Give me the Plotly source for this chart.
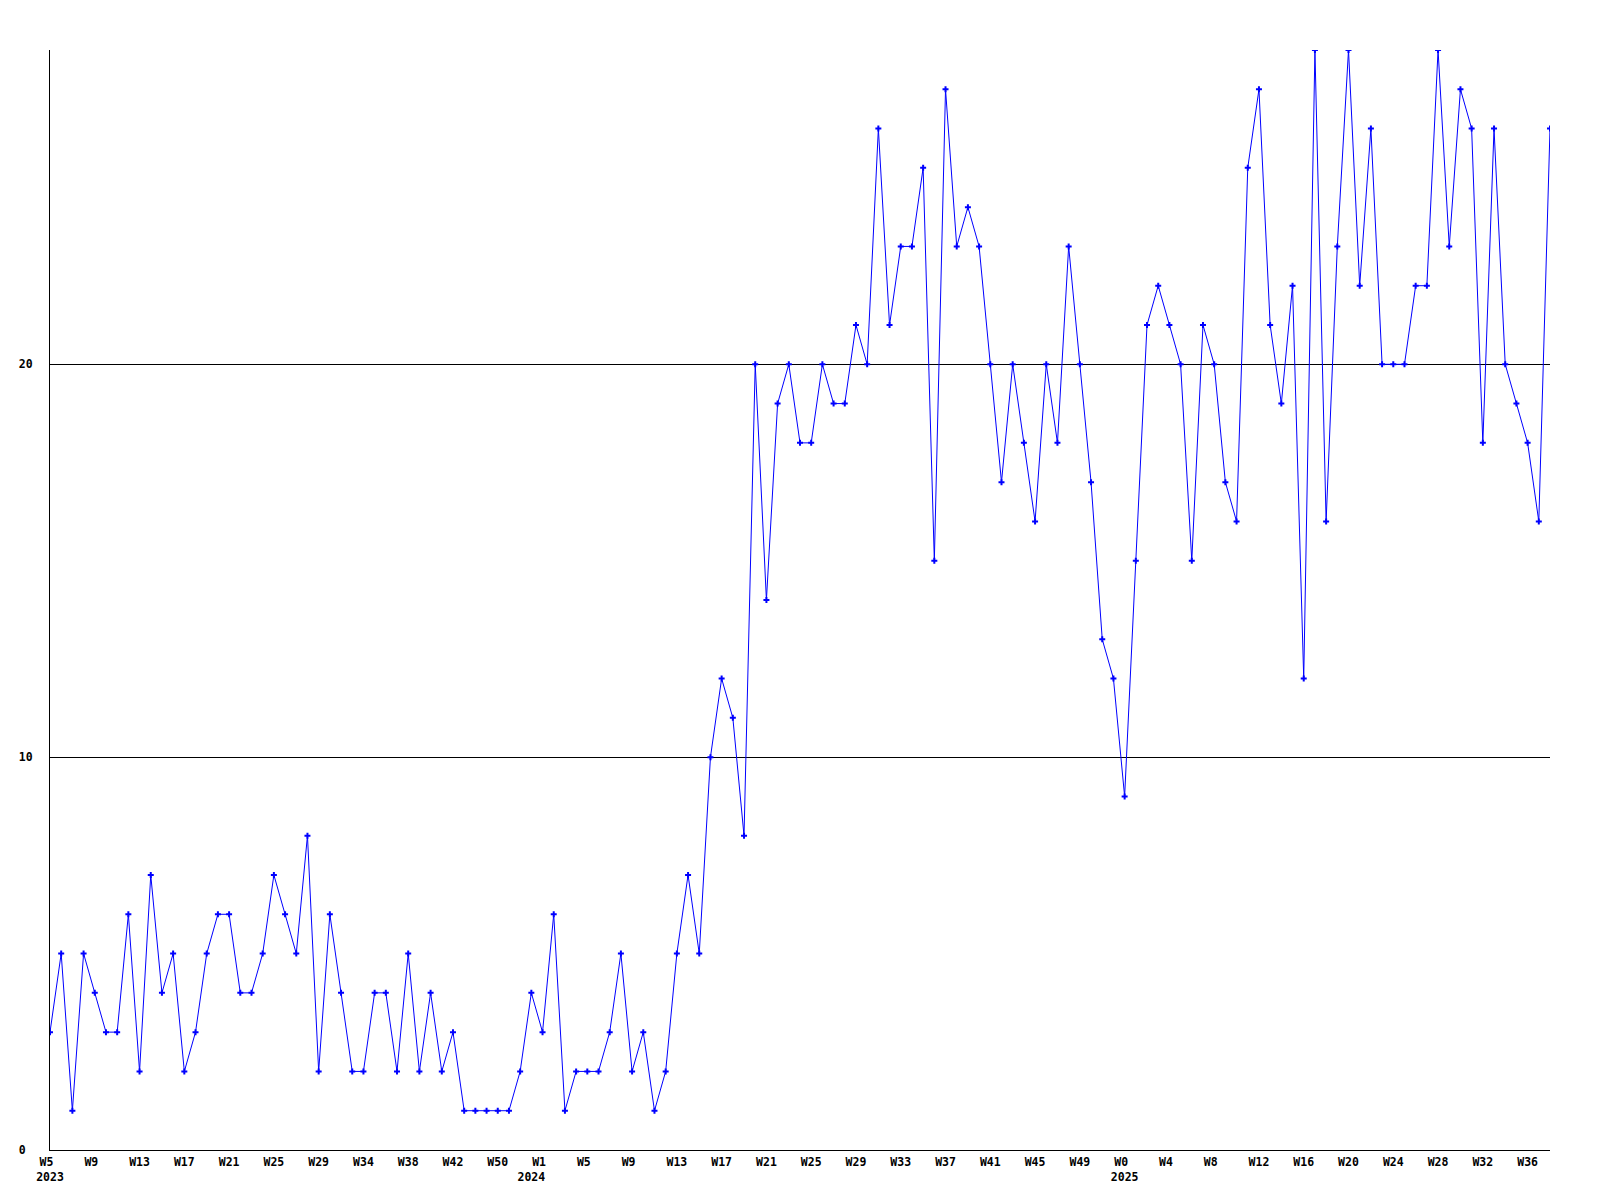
import plotly.graph_objects as go

# ---- categories (year, week) for each data point ----
years = ([2023] * 43) + ([2024] * 53) + ([2025] * 39)
weeks = [
    5, 6, 7, 8, 9, 10, 11, 12, 13, 14, 15, 16, 17, 18, 19, 20, 21, 22, 23, 24,
    25, 26, 27, 28, 29, 30, 31, 32, 34, 35, 36, 37, 38, 39, 40, 41, 42, 43, 44, 45,
    50, 51, 52,
    0, 1, 2, 3, 4, 5, 6, 7, 8, 9, 10, 11, 12, 13, 14, 15, 16, 17, 18, 19, 20,
    21, 22, 23, 24, 25, 26, 27, 28, 29, 30, 31, 32, 33, 34, 35, 36, 37, 38, 39, 40,
    41, 42, 43, 44, 45, 46, 47, 48, 49, 50, 51, 52,
    0, 1, 2, 3, 4, 5, 6, 7, 8, 9, 10, 11, 12, 13, 14, 15, 16, 17, 18, 19,
    20, 21, 22, 23, 24, 25, 26, 27, 28, 29, 30, 31, 32, 33, 34, 35, 36, 37, 38,
]

# ---- series values ----
values = [
    3, 5, 1, 5, 4, 3, 3, 6, 2, 7, 4, 5, 2, 3, 5, 6, 6, 4, 4, 5,
    7, 6, 5, 8, 2, 6, 4, 2, 2, 4, 4, 2, 5, 2, 4, 2, 3, 1, 1, 1,
    1, 1, 2, 4, 3, 6, 1, 2, 2, 2, 3, 5, 2, 3, 1, 2, 5, 7, 5, 10,
    12, 11, 8, 20, 14, 19, 20, 18, 18, 20, 19, 19, 21, 20, 26, 21, 23, 23, 25, 15,
    27, 23, 24, 23, 20, 17, 20, 18, 16, 20, 18, 23, 20, 17, 13, 12, 9, 15, 21, 22,
    21, 20, 15, 21, 20, 17, 16, 25, 27, 21, 19, 22, 12, 28, 16, 23, 28, 22, 26, 20,
    20, 20, 22, 22, 28, 23, 27, 26, 18, 26, 20, 19, 18, 16, 26,
]

# ---- axis tick labels ----
y_tickvals = [0, 10, 20]
y_ticktext = ["0\u00a0", "10", "20"]
label_step = 4

x_idx = list(range(len(values)))
labels = {}
for i in range(0, len(values), label_step):
    t = "W%d" % weeks[i]
    if len(t) < 3:
        t = t + "\u00a0"
    labels[i] = [t, ""]
for i in range(len(values)):
    if i == 0 or years[i] != years[i - 1]:
        labels.setdefault(i, ["\u00a0", ""])
        labels[i][1] = str(years[i])

tickvals, ticktext = [], []
for i in sorted(labels):
    top, bottom = labels[i]
    tickvals.append(i)
    ticktext.append(top + ("<br>" + bottom if bottom else ""))

hover = ["%d W%d" % (y, w) for y, w in zip(years, weeks)]

font = dict(family="DejaVu Sans Mono", size=11.5, color="black", weight="bold")

fig = go.Figure(
    go.Scatter(
        x=x_idx,
        y=values,
        text=hover,
        mode="lines+markers",
        line=dict(color="#0000FF", width=1),
        marker=dict(symbol="cross", size=5, color="#0000FF"),
        hovertemplate="%{text}: %{y}<extra></extra>",
    )
)

fig.update_layout(
    width=1600,
    height=1200,
    margin=dict(l=42, r=58, t=42, b=58),
    paper_bgcolor="white",
    plot_bgcolor="white",
    showlegend=False,
    font=font,
)

fig.update_xaxes(
    range=[0, len(values) - 1],
    tickmode="array",
    tickvals=tickvals,
    ticktext=ticktext,
    tickfont=font,
    tickangle=0,
    showgrid=False,
    zeroline=False,
    showline=True,
    linecolor="black",
    linewidth=1,
    ticks="",
    ticklabelstandoff=1,
    automargin=False,
)

fig.update_yaxes(
    range=[0, 28],
    tickmode="array",
    tickvals=y_tickvals,
    ticktext=y_ticktext,
    tickfont=font,
    showgrid=True,
    gridcolor="black",
    gridwidth=1,
    zeroline=False,
    showline=True,
    linecolor="black",
    linewidth=1,
    ticks="",
    ticklabelstandoff=14,
    automargin=False,
)

fig.write_html("out.html")
